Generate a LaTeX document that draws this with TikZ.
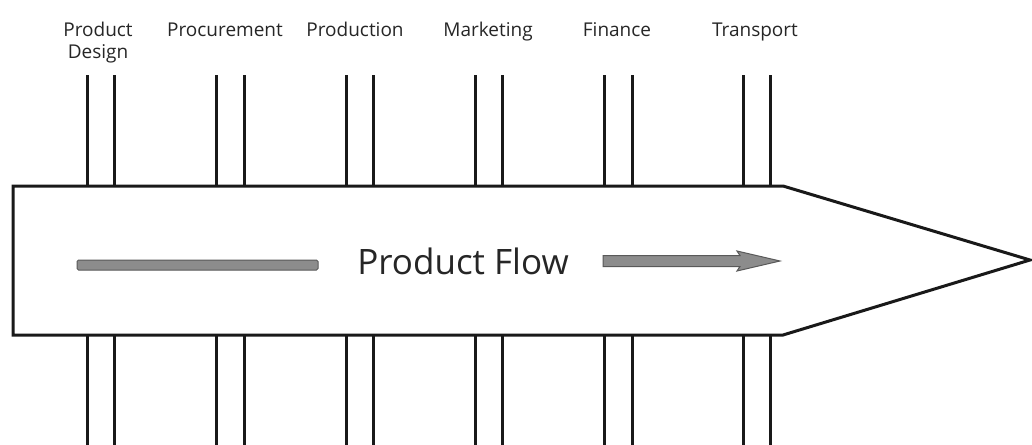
\documentclass[tikz,border=0pt]{standalone}
\usepackage{fontspec}
\setmainfont{Open Sans}
\begin{document}
\begin{tikzpicture}[x=1pt,y=-1pt,
  outline/.style={draw=black!90,line width=3pt,line join=miter},
  tick/.style={draw=black!90,line width=3pt},
  lbl/.style={font=\fontsize{19}{23}\selectfont,text=black!85,align=center,inner sep=0pt,anchor=base},
  flowbar/.style={fill=black!45,draw=black!65,line width=1pt}]
\useasboundingbox (0,0) rectangle (1032,444);
% vertical pairs
\foreach \a/\b in {87/114,216/244,346/373,475/502,604/632,743/770}{
  \draw[tick] (\a,75) -- (\a,186);
  \draw[tick] (\b,75) -- (\b,186);
  \draw[tick] (\a,335) -- (\a,446);
  \draw[tick] (\b,335) -- (\b,446);
}
% main arrow body
\draw[outline,fill=white] (13,186) -- (783,186) -- (1030,260) -- (783,335) -- (13,335) -- cycle;
% labels
\node[lbl] (pd) at (98,37) {Product};
\node[lbl] (pd2) at (98,59) {Design};
\node[lbl] (pc) at (225,37) {Procurement};
\node[lbl] (pr) at (355,37) {Production};
\node[lbl] (mk) at (488,37) {Marketing};
\node[lbl] (fi) at (617,37) {Finance};
\node[lbl] (tr) at (755,37) {Transport};
% product flow
\node[font=\fontsize{35}{40}\selectfont,text=black!85,inner sep=0pt,anchor=base] (pf) at (463,274) {Product Flow};
\draw[flowbar,rounded corners=1.5pt] (77,260) rectangle (318,270);
\draw[flowbar] (603,255.5) -- (740,255.5) -- (737,251) -- (780,261) -- (737,271) -- (740,266.5) -- (603,266.5) -- cycle;
\end{tikzpicture}
\end{document}
